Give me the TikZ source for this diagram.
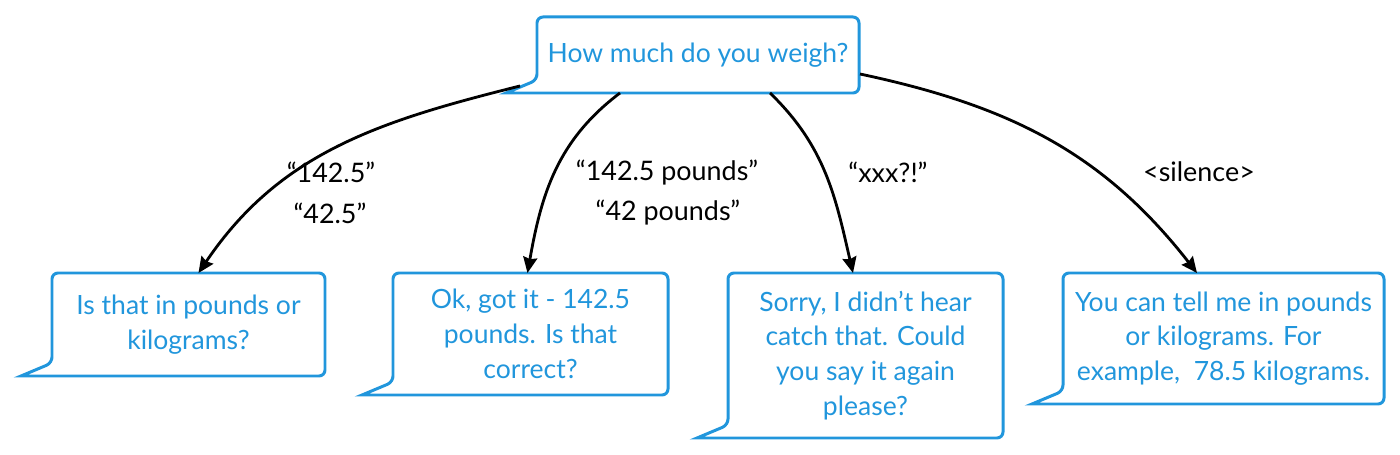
\documentclass[tikz,border=0pt]{standalone}
\usepackage{fontspec}
\setmainfont{Lato}
\usetikzlibrary{arrows.meta}
\definecolor{skyblue}{RGB}{33,150,220}
\newdimen\pxu
\pxu=0.02cm
\tikzset{
  say/.style={text=skyblue, align=center, inner sep=0pt, outer sep=0pt, font=\fontsize{15.1}{19.8}\selectfont},
  bubble/.style={draw=skyblue, line width=1.7pt},
  reply/.style={-{Stealth[length=9pt,width=8pt,inset=1pt]}, line width=1.6pt},
  heard/.style={font=\fontsize{15.3}{19.8}\selectfont}
}
\newcommand{\speech}[1]{\draw[bubble] ([shift={(-31,0)}]#1.south west) [rounded corners=6\pxu] -- (#1.south east) -- (#1.north east) -- (#1.north west) -- ([shift={(0,-13)}]#1.south west) [sharp corners] -- cycle;}
\begin{document}
\begin{tikzpicture}[x=0.02cm,y=-0.02cm]
  \useasboundingbox (0,0) rectangle (1400,455);
  \node[say, minimum width=322\pxu, minimum height=76\pxu] (ask) at (698,55) {How much do you weigh?};
  \node[say, minimum width=273\pxu, minimum height=103\pxu] (unit) at (188.5,324.5) {Is that in pounds or\\kilograms?};
  \node[say, minimum width=275\pxu, minimum height=122\pxu] (confirm) at (530.5,334) {Ok, got it - 142.5\\pounds. Is that\\correct?};
  \node[say, minimum width=275\pxu, minimum height=165\pxu] (retry) at (865.5,355.5) {Sorry, I didn’t hear\\catch that. Could\\you say it again\\please?};
  \node[say, minimum width=321\pxu, minimum height=131\pxu] (help) at (1223.5,338.5) {You can tell me in pounds\\or kilograms. For\\example,\ \ 78.5 kilograms.};
  \speech{ask}
  \speech{unit}
  \speech{confirm}
  \speech{retry}
  \speech{help}
  \draw[reply] ([shift={(-17,-7)}]ask.south west) to[out=194,in=56] ([shift={(10,0)}]unit.north);
  \draw[reply] ([shift={(-78,0)}]ask.south) to[out=217,in=80] ([shift={(-3,0)}]confirm.north);
  \draw[reply] ([shift={(72,0)}]ask.south) to[out=316,in=103] ([shift={(-12.5,0)}]retry.north);
  \draw[reply] ([shift={(1,19)}]ask.east) to[out=-12,in=128] ([shift={(-26.5,0)}]help.north);
  \node[heard] (h1a) at (331,172) {“142.5”};
  \node[heard] (h1b) at (330,213) {“42.5”};
  \node[heard] (h2a) at (667,173) {“142.5 pounds”};
  \node[heard] (h2b) at (668,213) {“42 pounds”};
  \node[heard] (h3) at (888,172) {“xxx?!”};
  \node[heard] (h4) at (1199,172) {<silence>};
\end{tikzpicture}
\end{document}
